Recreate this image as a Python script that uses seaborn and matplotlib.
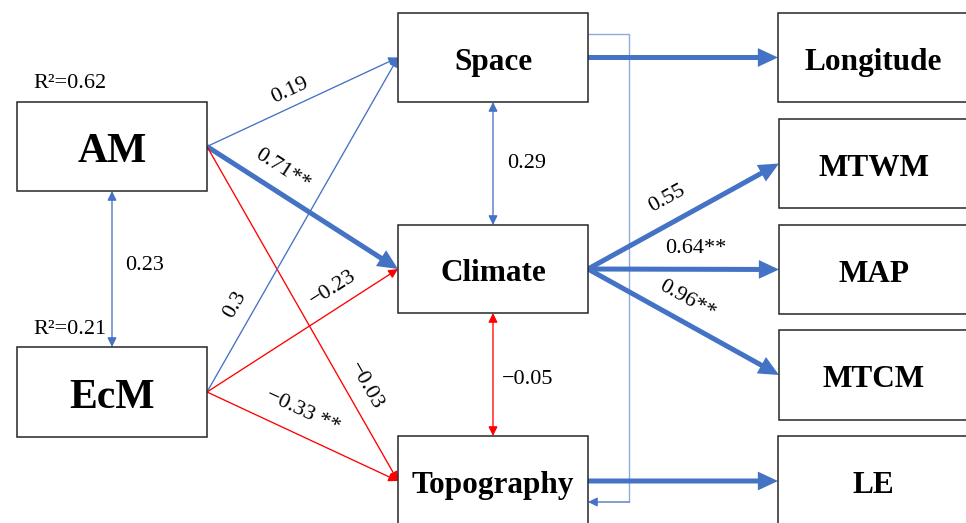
import numpy as np
import matplotlib.pyplot as plt
import seaborn as sns
from matplotlib.patches import Rectangle, FancyArrowPatch

# ── model content ─────────────────────────────────────────────────
nodes = ["AM", "EcM", "Space", "Climate", "Topography",
         "Longitude", "MTWM", "MAP", "MTCM", "LE"]

r2_nodes = ["AM", "EcM"]
r2_values = [0.62, 0.21]

path_from = ["AM", "AM", "AM", "EcM", "EcM", "EcM",
             "Space", "Climate", "Climate", "Climate", "Topography"]
path_to = ["Space", "Climate", "Topography", "Space", "Climate", "Topography",
           "Longitude", "MTWM", "MAP", "MTCM", "LE"]
path_coef = [0.19, 0.71, -0.03, 0.3, -0.23, -0.33,
             None, 0.55, 0.64, 0.96, None]
path_label = ["0.19", "0.71**", "\u22120.03", "0.3", "\u22120.23", "\u22120.33 **",
              "", "0.55", "0.64**", "0.96**", ""]

cor_a = ["AM", "Space", "Climate"]
cor_b = ["EcM", "Climate", "Topography"]
cor_values = [0.23, 0.29, -0.05]
cor_label = ["0.23", "0.29", "\u22120.05"]

# ── layout (pixel space, y down) ──────────────────────────────────
BOX = {
    "AM": (17, 102, 190, 89), "EcM": (17, 347, 190, 90),
    "Space": (398, 13, 190, 89), "Climate": (398, 225, 190, 88),
    "Topography": (398, 436, 190, 90),
    "Longitude": (778, 13, 190, 89), "MTWM": (779, 119, 190, 89),
    "MAP": (779, 225, 190, 89), "MTCM": (779, 330, 190, 90),
    "LE": (778, 436, 190, 90),
}
PATH_LABEL_POS = [(290, 91), (282, 170), (366, 386), (235, 305), (333, 288),
                  (303, 412), None, (667, 199), (696, 249), (687, 300), None]
COR_LABEL_POS = [(145, 266), (527, 163), (528, 380)]
R2_POS = [(70, 84), (70, 330)]
THICK = {("AM", "Climate"), ("Space", "Longitude"), ("Climate", "MTWM"),
         ("Climate", "MAP"), ("Climate", "MTCM"), ("Topography", "LE")}

BLUE, RED, LIGHT = "#4472C4", "#FF0000", "#8FAADC"

sns.set_theme(style="white")
plt.rcParams["font.family"] = ["Liberation Serif", "DejaVu Serif"]
plt.rcParams["text.color"] = "black"

fig = plt.figure(figsize=(9.66, 5.23), dpi=100)
ax = fig.add_axes([0, 0, 1, 1])
ax.set_xlim(0, 966)
ax.set_ylim(523, 0)
ax.axis("off")


def center(n):
    x, y, w, h = BOX[n]
    return x + w / 2, y + h / 2


def arrow(p0, p1, color, thick=False, both=False):
    if thick:
        # filled polygon arrow: sharp head, no outline stroke
        ax.add_patch(FancyArrowPatch(
            p0, p1, arrowstyle="simple,head_length=1.45,head_width=1.35,tail_width=0.36",
            mutation_scale=10, lw=0, facecolor=color, edgecolor="none",
            shrinkA=0, shrinkB=0, zorder=2))
        return
    style = "<|-|>" if both else "-|>"
    style += ",head_length=0.55,head_width=0.27"
    ax.add_patch(FancyArrowPatch(p0, p1, arrowstyle=style, mutation_scale=10,
                                 lw=0.95, color=color, shrinkA=0, shrinkB=0,
                                 zorder=2))


# boxes
for n in nodes:
    x, y, w, h = BOX[n]
    ax.add_patch(Rectangle((x, y), w, h, fill=True, facecolor="white",
                           edgecolor="#262626", lw=1.1, zorder=3))
    cx, cy = center(n)
    size = 30 if n in r2_nodes else 22.5
    cap = 0.662 * size * 100 / 72          # cap height in px
    ax.text(cx, cy + cap / 2 + 2, n, ha="center", va="baseline",
            fontsize=size, fontweight="bold", zorder=4)

# R² labels
for n, v, (tx, ty) in zip(r2_nodes, r2_values, R2_POS):
    ax.text(tx, ty, f"R\u00b2={v:.2f}", ha="center", va="center", fontsize=16)

# directed paths
for a, b, c, lab, pos in zip(path_from, path_to, path_coef, path_label,
                             PATH_LABEL_POS):
    ax_, ay, aw, ah = BOX[a]
    bx, by, bw, bh = BOX[b]
    p0 = (ax_ + aw, ay + ah / 2)
    p1 = (bx, by + bh / 2)
    color = RED if (c is not None and c < 0) else BLUE
    arrow(p0, p1, color, thick=(a, b) in THICK)
    if lab:
        ang = -np.degrees(np.arctan2(p1[1] - p0[1], p1[0] - p0[0]))
        ax.text(pos[0], pos[1], lab, ha="center", va="center", fontsize=16,
                rotation=ang, rotation_mode="anchor", zorder=5)

# correlations (double-headed, vertical)
for a, b, v, lab, pos in zip(cor_a, cor_b, cor_values, cor_label,
                             COR_LABEL_POS):
    cx, _ = center(a)
    p0 = (cx, BOX[a][1] + BOX[a][3])
    p1 = (cx, BOX[b][1])
    arrow(p0, p1, RED if v < 0 else BLUE, both=True)
    ax.text(pos[0], pos[1], lab, ha="center", va="center", fontsize=16)

# Space -> Topography link on the right
sx = BOX["Space"][0] + BOX["Space"][2]
tx_ = BOX["Topography"][0] + BOX["Topography"][2]
ax.plot([sx, 629, 629], [34, 34, 502], color=LIGHT, lw=1.0, zorder=1)
arrow((629, 502), (tx_, 502), BLUE)

fig.savefig("out.png", dpi=100)
